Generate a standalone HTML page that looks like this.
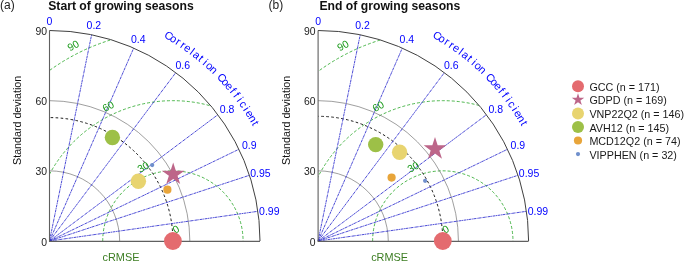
<!DOCTYPE html>
<html><head><meta charset="utf-8"><style>
html,body{margin:0;padding:0;background:#fff;}
body{width:685px;height:262px;overflow:hidden;}
svg{display:block;font-family:"Liberation Sans", sans-serif;will-change:transform;}
</style></head><body>
<svg width="685" height="262" viewBox="0 0 685 262">
<rect width="685" height="262" fill="#fff"/>
<clipPath id="clip0"><path d="M49.5 241 L260 241 A210.5 210.5 0 0 0 49.5 30.5 Z"/></clipPath>
<g clip-path="url(#clip0)" fill="none" stroke="#22a422" stroke-width="0.8" stroke-dasharray="3 2"><circle cx="172.9" cy="241" r="70.17"/><circle cx="172.9" cy="241" r="140.33"/><circle cx="172.9" cy="241" r="210.5"/></g>
<path d="M119.67 241 A70.17 70.17 0 0 0 49.5 170.83" fill="none" stroke="#6a6a6a" stroke-width="0.65"/>
<path d="M189.83 241 A140.33 140.33 0 0 0 49.5 100.67" fill="none" stroke="#6a6a6a" stroke-width="0.65"/>
<path d="M172.9 241 A123.4 123.4 0 0 0 49.5 117.6" fill="none" stroke="#1a1a1a" stroke-width="1" stroke-dasharray="2.6 2.4"/>
<g stroke="#2020cc" stroke-width="0.8" stroke-dasharray="2.8 0.55 1 0.55"><line x1="49.5" y1="241" x2="91.6" y2="34.75"/><line x1="49.5" y1="241" x2="133.7" y2="48.07"/><line x1="49.5" y1="241" x2="175.8" y2="72.6"/><line x1="49.5" y1="241" x2="217.9" y2="114.7"/><line x1="49.5" y1="241" x2="238.95" y2="149.25"/><line x1="49.5" y1="241" x2="249.47" y2="175.27"/><line x1="49.5" y1="241" x2="257.89" y2="211.31"/></g>
<path d="M49.5 30.5 L49.5 241.4 L260 241.4" fill="none" stroke="#606060" stroke-width="1.1"/>
<path d="M260 241 A210.5 210.5 0 0 0 49.5 30.5" fill="none" stroke="#404040" stroke-width="1"/>
<g fill="#0000ff" font-size="10.5" text-anchor="middle"><text x="49.5" y="24.77">0</text><text x="93.9" y="29.24">0.2</text><text x="138.31" y="43.23">0.4</text><text x="182.72" y="68.98">0.6</text><text x="227.12" y="113.19">0.8</text><text x="249.32" y="149.46">0.9</text><text x="260.42" y="176.78">0.95</text><text x="269.3" y="214.62">0.99</text></g>
<g fill="#0000ff" font-size="11" text-anchor="middle"><text transform="translate(168.79 35.63) rotate(30.15)" y="3.9">C</text><text transform="translate(173.66 38.54) rotate(31.52)" y="3.9">o</text><text transform="translate(178.46 41.56) rotate(32.89)" y="3.9">r</text><text transform="translate(183.18 44.7) rotate(34.25)" y="3.9">r</text><text transform="translate(187.83 47.94) rotate(35.62)" y="3.9">e</text><text transform="translate(192.4 51.3) rotate(36.99)" y="3.9">l</text><text transform="translate(196.89 54.77) rotate(38.36)" y="3.9">a</text><text transform="translate(201.29 58.34) rotate(39.73)" y="3.9">t</text><text transform="translate(205.61 62.02) rotate(41.1)" y="3.9">i</text><text transform="translate(209.84 65.79) rotate(42.46)" y="3.9">o</text><text transform="translate(213.98 69.67) rotate(43.83)" y="3.9">n</text><text transform="translate(221.97 77.72) rotate(46.57)" y="3.9">C</text><text transform="translate(225.82 81.89) rotate(47.94)" y="3.9">o</text><text transform="translate(229.57 86.14) rotate(49.3)" y="3.9">e</text><text transform="translate(233.22 90.48) rotate(50.67)" y="3.9">f</text><text transform="translate(236.76 94.91) rotate(52.04)" y="3.9">f</text><text transform="translate(240.19 99.43) rotate(53.41)" y="3.9">i</text><text transform="translate(243.52 104.02) rotate(54.78)" y="3.9">c</text><text transform="translate(246.73 108.69) rotate(56.15)" y="3.9">i</text><text transform="translate(249.84 113.44) rotate(57.51)" y="3.9">e</text><text transform="translate(252.82 118.26) rotate(58.88)" y="3.9">n</text><text transform="translate(255.7 123.15) rotate(60.25)" y="3.9">t</text></g>
<g transform="translate(172.9 241) rotate(-30)" fill="#1a9a1a" font-size="10.4"><text x="5.56" y="-5.1">0</text><text x="5.56" y="-75.27">30</text><text x="5.56" y="-145.43">60</text><text x="5.56" y="-215.6">90</text></g>
<g fill="#222" font-size="10.4" text-anchor="end"><text x="47" y="245.6">0</text><text x="47" y="175.43">30</text><text x="47" y="105.27">60</text><text x="47" y="35.1">90</text></g>
<text transform="translate(20.9 120.4) rotate(-90)" font-size="10.7" text-anchor="middle" fill="#111">Standard deviation</text>
<text x="121" y="261.3" font-size="10.9" text-anchor="middle" fill="#3c7d22">cRMSE</text>
<circle cx="112.4" cy="137.5" r="7.7" fill="#9dc047"/>
<circle cx="138.4" cy="181.2" r="7.7" fill="#e8d470"/>
<circle cx="167.4" cy="189.7" r="4.1" fill="#e8a53a"/>
<circle cx="152.2" cy="165.1" r="2.1" fill="#6f8fcc"/>
<path d="M173.2 162.5 L170.53 170.72 L161.88 170.72 L168.88 175.8 L166.21 184.03 L173.2 178.95 L180.19 184.03 L177.52 175.8 L184.52 170.72 L175.87 170.72Z" fill="#bd6689"/>
<circle cx="172.9" cy="241" r="8.9" fill="#e46b6f"/>
<text x="0" y="9.4" font-size="12" fill="#222">(a)</text>
<text x="121" y="9.6" font-size="12.2" font-weight="bold" text-anchor="middle" fill="#111">Start of growing seasons</text>
<clipPath id="clip268"><path d="M318.1 241 L528.6 241 A210.5 210.5 0 0 0 318.1 30.5 Z"/></clipPath>
<g clip-path="url(#clip268)" fill="none" stroke="#22a422" stroke-width="0.8" stroke-dasharray="3 2"><circle cx="442.8" cy="241" r="70.17"/><circle cx="442.8" cy="241" r="140.33"/><circle cx="442.8" cy="241" r="210.5"/></g>
<path d="M388.27 241 A70.17 70.17 0 0 0 318.1 170.83" fill="none" stroke="#6a6a6a" stroke-width="0.65"/>
<path d="M458.43 241 A140.33 140.33 0 0 0 318.1 100.67" fill="none" stroke="#6a6a6a" stroke-width="0.65"/>
<path d="M442.8 241 A124.7 124.7 0 0 0 318.1 116.3" fill="none" stroke="#1a1a1a" stroke-width="1" stroke-dasharray="2.6 2.4"/>
<g stroke="#2020cc" stroke-width="0.8" stroke-dasharray="2.8 0.55 1 0.55"><line x1="318.1" y1="241" x2="360.2" y2="34.75"/><line x1="318.1" y1="241" x2="402.3" y2="48.07"/><line x1="318.1" y1="241" x2="444.4" y2="72.6"/><line x1="318.1" y1="241" x2="486.5" y2="114.7"/><line x1="318.1" y1="241" x2="507.55" y2="149.25"/><line x1="318.1" y1="241" x2="518.08" y2="175.27"/><line x1="318.1" y1="241" x2="526.5" y2="211.31"/></g>
<path d="M318.1 30.5 L318.1 241.4 L528.6 241.4" fill="none" stroke="#606060" stroke-width="1.1"/>
<path d="M528.6 241 A210.5 210.5 0 0 0 318.1 30.5" fill="none" stroke="#404040" stroke-width="1"/>
<g fill="#0000ff" font-size="10.5" text-anchor="middle"><text x="318.1" y="24.77">0</text><text x="362.5" y="29.24">0.2</text><text x="406.91" y="43.23">0.4</text><text x="451.32" y="68.98">0.6</text><text x="495.72" y="113.19">0.8</text><text x="517.92" y="149.46">0.9</text><text x="529.02" y="176.78">0.95</text><text x="537.9" y="214.62">0.99</text></g>
<g fill="#0000ff" font-size="11" text-anchor="middle"><text transform="translate(437.39 35.63) rotate(30.15)" y="3.9">C</text><text transform="translate(442.26 38.54) rotate(31.52)" y="3.9">o</text><text transform="translate(447.06 41.56) rotate(32.89)" y="3.9">r</text><text transform="translate(451.78 44.7) rotate(34.25)" y="3.9">r</text><text transform="translate(456.43 47.94) rotate(35.62)" y="3.9">e</text><text transform="translate(461 51.3) rotate(36.99)" y="3.9">l</text><text transform="translate(465.49 54.77) rotate(38.36)" y="3.9">a</text><text transform="translate(469.89 58.34) rotate(39.73)" y="3.9">t</text><text transform="translate(474.21 62.02) rotate(41.1)" y="3.9">i</text><text transform="translate(478.44 65.79) rotate(42.46)" y="3.9">o</text><text transform="translate(482.58 69.67) rotate(43.83)" y="3.9">n</text><text transform="translate(490.57 77.72) rotate(46.57)" y="3.9">C</text><text transform="translate(494.42 81.89) rotate(47.94)" y="3.9">o</text><text transform="translate(498.17 86.14) rotate(49.3)" y="3.9">e</text><text transform="translate(501.82 90.48) rotate(50.67)" y="3.9">f</text><text transform="translate(505.36 94.91) rotate(52.04)" y="3.9">f</text><text transform="translate(508.79 99.43) rotate(53.41)" y="3.9">i</text><text transform="translate(512.12 104.02) rotate(54.78)" y="3.9">c</text><text transform="translate(515.33 108.69) rotate(56.15)" y="3.9">i</text><text transform="translate(518.44 113.44) rotate(57.51)" y="3.9">e</text><text transform="translate(521.42 118.26) rotate(58.88)" y="3.9">n</text><text transform="translate(524.3 123.15) rotate(60.25)" y="3.9">t</text></g>
<g transform="translate(442.8 241) rotate(-30)" fill="#1a9a1a" font-size="10.4"><text x="5.56" y="-5.1">0</text><text x="5.56" y="-75.27">30</text><text x="5.56" y="-145.43">60</text><text x="5.56" y="-215.6">90</text></g>
<g fill="#222" font-size="10.4" text-anchor="end"><text x="315.6" y="245.6">0</text><text x="315.6" y="175.43">30</text><text x="315.6" y="105.27">60</text><text x="315.6" y="35.1">90</text></g>
<text transform="translate(289.5 120.4) rotate(-90)" font-size="10.7" text-anchor="middle" fill="#111">Standard deviation</text>
<text x="389.6" y="261.3" font-size="10.9" text-anchor="middle" fill="#3c7d22">cRMSE</text>
<circle cx="375.7" cy="144.6" r="7.7" fill="#9dc047"/>
<circle cx="399.6" cy="152.3" r="7.7" fill="#e8d470"/>
<circle cx="391.6" cy="177.6" r="4.1" fill="#e8a53a"/>
<circle cx="425.1" cy="180.8" r="2.1" fill="#6f8fcc"/>
<path d="M435 137.1 L432.33 145.32 L423.68 145.32 L430.68 150.4 L428.01 158.63 L435 153.55 L441.99 158.63 L439.32 150.4 L446.32 145.32 L437.67 145.32Z" fill="#bd6689"/>
<circle cx="442.8" cy="241" r="8.9" fill="#e46b6f"/>
<text x="268.6" y="9.4" font-size="12" fill="#222">(b)</text>
<text x="389.9" y="9.6" font-size="12.2" font-weight="bold" text-anchor="middle" fill="#111">End of growing seasons</text>
<circle cx="578" cy="86.3" r="6.0" fill="#e46b6f"/>
<text x="589.4" y="90.9" font-size="10.75" fill="#1a1a1a">GCC (n = 171)</text>
<path d="M578 93.15 L576.52 97.71 L571.72 97.71 L575.6 100.53 L574.12 105.09 L578 102.27 L581.88 105.09 L580.4 100.53 L584.28 97.71 L579.48 97.71Z" fill="#bd6689"/>
<text x="589.4" y="104.45" font-size="10.75" fill="#1a1a1a">GDPD (n = 169)</text>
<circle cx="578" cy="113.4" r="6.0" fill="#e8d470"/>
<text x="589.4" y="118" font-size="10.75" fill="#1a1a1a">VNP22Q2 (n = 146)</text>
<circle cx="578" cy="126.95" r="6.0" fill="#9dc047"/>
<text x="589.4" y="131.55" font-size="10.75" fill="#1a1a1a">AVH12 (n = 145)</text>
<circle cx="578" cy="140.5" r="4.1" fill="#e8a53a"/>
<text x="589.4" y="145.1" font-size="10.75" fill="#1a1a1a">MCD12Q2 (n = 74)</text>
<circle cx="578" cy="154.05" r="2.1" fill="#6f8fcc"/>
<text x="589.4" y="158.65" font-size="10.75" fill="#1a1a1a">VIPPHEN (n = 32)</text>
</svg>
</body></html>
